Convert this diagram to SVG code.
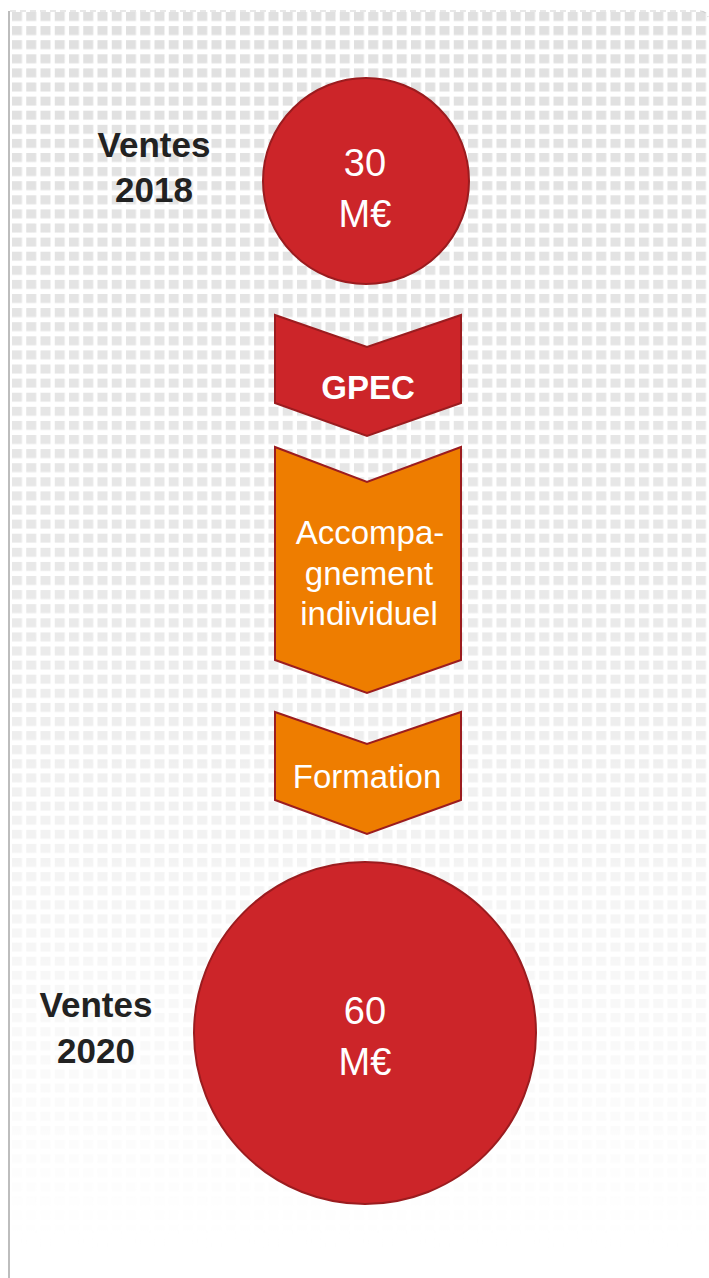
<svg xmlns="http://www.w3.org/2000/svg" width="709" height="1278" viewBox="0 0 709 1278">
  <defs>
    <pattern id="grid" x="12" y="12" width="14.25" height="14.1" patternUnits="userSpaceOnUse">
      <rect x="0" y="0" width="10" height="9" fill="#e0e0e0"/>
    </pattern>
    <linearGradient id="fadeGrad" x1="0" y1="12" x2="0" y2="1250" gradientUnits="userSpaceOnUse">
      <stop offset="0" stop-color="#fff" stop-opacity="1"/>
      <stop offset="0.45" stop-color="#fff" stop-opacity="0.75"/>
      <stop offset="0.7" stop-color="#fff" stop-opacity="0.35"/>
      <stop offset="1" stop-color="#fff" stop-opacity="0"/>
    </linearGradient>
    <mask id="fade" maskUnits="userSpaceOnUse" x="0" y="0" width="709" height="1278">
      <rect x="0" y="0" width="709" height="1278" fill="url(#fadeGrad)"/>
    </mask>
  </defs>
  <style>
    .bubble { fill: #cc2529; stroke: #9b1c1f; stroke-width: 2; }
    .step-red { fill: #cc2529; stroke: #9b1c1f; stroke-width: 2; stroke-linejoin: miter; }
    .step-orange { fill: #ee7d00; stroke: #9b1c1f; stroke-width: 2; stroke-linejoin: miter; }
    .value { font-family: "Liberation Sans", Arial, sans-serif; font-size: 38px; fill: #ffffff; text-anchor: middle; }
    .step-label { font-family: "Liberation Sans", Arial, sans-serif; font-size: 33px; fill: #ffffff; text-anchor: middle; }
    .step-bold { font-family: "Liberation Sans", Arial, sans-serif; font-size: 33px; font-weight: bold; fill: #ffffff; text-anchor: middle; }
    .year { font-family: "Liberation Sans", Arial, sans-serif; font-size: 35px; font-weight: bold; fill: #222222; text-anchor: middle; }
  </style>

  <!-- page background with fading square grid -->
  <rect x="0" y="0" width="709" height="1278" fill="#ffffff"/>
  <rect x="10" y="12" width="699" height="1266" fill="url(#grid)" mask="url(#fade)"/>
  <path d="M10 11 H700 Q706 11 708 17" fill="none" stroke="#d0d0d0" stroke-width="1.2" stroke-dasharray="6 4"/>
  <line x1="9" y1="11" x2="9" y2="1278" stroke="#bdbdbd" stroke-width="2"/>

  <!-- flow: 2018 sales -> GPEC -> coaching -> training -> 2020 sales -->
  <g id="connectors"></g>

  <g id="sales-2018">
    <circle class="bubble" cx="366" cy="181" r="103"/>
    <text class="value" x="365" y="176">30</text>
    <text class="value" x="365" y="227">M€</text>
    <text class="year" x="154" y="157">Ventes</text>
    <text class="year" x="154" y="202">2018</text>
  </g>

  <g id="step-gpec">
    <polygon class="step-red" points="275,315 367,347 461,315 461,403 367,436 275,403"/>
    <text class="step-bold" x="368" y="399">GPEC</text>
  </g>

  <g id="step-accompagnement">
    <polygon class="step-orange" points="275,447 367,482 461,447 461,660 367,693 275,660"/>
    <text class="step-label" x="370" y="544">Accompa-</text>
    <text class="step-label" x="369" y="585">gnement</text>
    <text class="step-label" x="369" y="625">individuel</text>
  </g>

  <g id="step-formation">
    <polygon class="step-orange" points="275,712 367,744 461,712 461,800 367,834 275,800"/>
    <text class="step-label" x="367" y="788">Formation</text>
  </g>

  <g id="sales-2020">
    <circle class="bubble" cx="365" cy="1033" r="171"/>
    <text class="value" x="365" y="1024">60</text>
    <text class="value" x="365" y="1075">M€</text>
    <text class="year" x="96" y="1017">Ventes</text>
    <text class="year" x="96" y="1063">2020</text>
  </g>
</svg>
